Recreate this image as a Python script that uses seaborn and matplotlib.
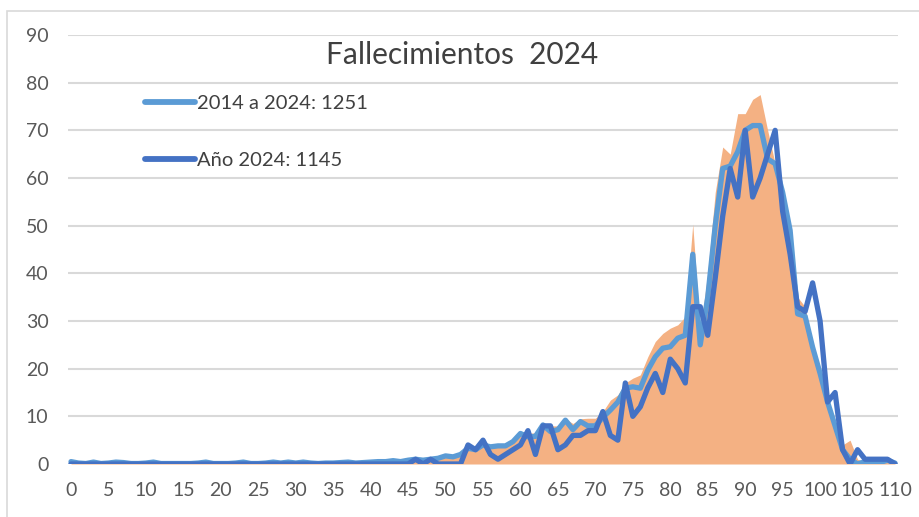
import numpy as np
import pandas as pd
import matplotlib
matplotlib.use("Agg")
import matplotlib.pyplot as plt
import seaborn as sns

ages = list(range(0, 111))

# 2014 a 2024 (media)
avg_2014_2024 = [
    0.5, 0.2, 0.1, 0.4, 0.1, 0.2, 0.4, 0.3, 0.1, 0.1,
    0.2, 0.4, 0.1, 0.1, 0.1, 0.1, 0.1, 0.2, 0.4, 0.1,
    0.1, 0.1, 0.2, 0.4, 0.1, 0.1, 0.2, 0.4, 0.2, 0.4,
    0.2, 0.4, 0.2, 0.1, 0.2, 0.2, 0.3, 0.4, 0.2, 0.3,
    0.4, 0.5, 0.5, 0.7, 0.5, 0.8, 1.0, 0.8, 1.0, 1.2,
    1.7, 1.5, 2.0, 3.3, 3.0, 4.0, 3.6, 3.8, 3.8, 4.7,
    6.4, 5.7, 5.8, 8.2, 6.8, 7.2, 9.2, 7.2, 8.9, 8.0,
    8.0, 9.8, 11.3, 13.0, 15.9, 16.2, 15.9, 19.7, 22.5, 24.3,
    24.6, 26.4, 27.0, 44.0, 25.0, 35.0, 50.0, 62.0, 62.5, 65.5,
    70.0, 71.0, 71.0, 64.0, 63.0, 57.0, 49.0, 31.5, 31.0, 24.5,
    19.0, 13.0, 8.0, 3.0, 1.0, 0.0, 0.5, 0.3, 0.3, 0.8,
    0.2,
]

# Año 2024
year_2024 = [
    0, 0, 0, 0, 0, 0, 0, 0, 0, 0,
    0, 0, 0, 0, 0, 0, 0, 0, 0, 0,
    0, 0, 0, 0, 0, 0, 0, 0, 0, 0,
    0, 0, 0, 0, 0, 0, 0, 0, 0, 0,
    0, 0, 0, 0, 0, 0, 1, 0, 1, 0,
    0, 0, 0, 4, 3, 5, 2, 1, 2, 3,
    4, 7, 2, 8, 8, 3, 4, 6, 6, 7,
    7, 11, 6, 5, 17, 10, 12, 16, 19, 15,
    22, 20, 17, 33, 33, 27, 39, 52, 62, 56,
    70, 56, 60, 65, 70, 53, 44, 33, 32, 38,
    30, 13, 15, 3, 0, 3, 1, 1, 1, 1,
    0,
]

# serie de fondo (área naranja)
area_max = [
    0.6, 0.3, 0.2, 0.5, 0.2, 0.3, 0.5, 0.4, 0.2, 0.2,
    0.3, 0.5, 0.2, 0.2, 0.2, 0.2, 0.2, 0.3, 0.5, 0.2,
    0.2, 0.2, 0.3, 0.5, 0.2, 0.2, 0.3, 0.5, 0.3, 0.5,
    0.3, 0.5, 0.3, 0.2, 0.3, 0.3, 0.4, 0.5, 0.3, 0.4,
    0.5, 0.6, 0.6, 0.8, 0.6, 1.0, 1.2, 1.0, 1.2, 1.4,
    1.9, 1.7, 2.2, 3.5, 3.3, 4.2, 3.8, 4.0, 4.0, 5.0,
    6.8, 6.5, 6.5, 8.5, 8.0, 8.0, 9.5, 8.5, 9.5, 9.6,
    9.6, 11.0, 13.4, 14.5, 17.0, 18.0, 18.7, 22.5, 25.7, 27.4,
    28.5, 29.2, 30.9, 50.3, 28.0, 40.0, 57.0, 66.5, 65.0, 73.5,
    73.5, 76.5, 77.5, 70.0, 63.0, 56.0, 50.0, 35.0, 33.0, 25.0,
    19.0, 13.0, 8.5, 4.0, 5.0, 1.0, 0.5, 0.3, 0.3, 0.5,
    0.2,
]

x_ticks = list(range(0, 111, 5))
y_ticks = list(range(0, 91, 10))

df = pd.DataFrame({
    "edad": ages,
    "media": avg_2014_2024,
    "anio": year_2024,
    "area": area_max,
})

sns.set_style("white")
plt.rcParams['font.family'] = ['Lato', 'DejaVu Sans']

fig = plt.figure(figsize=(9.2, 5.17), dpi=100)
fig.patches.append(plt.Rectangle((7 / 920, -0.05), 1.2, (517 - 11) / 517 + 0.05,
                                 transform=fig.transFigure, fill=False,
                                 edgecolor='#d9d9d9', linewidth=1.2))
ax = fig.add_axes([68 / 920, 53 / 517, 830 / 920, 429 / 517])

ax.fill_between(df["edad"], 0, df["area"], color='#F4B183', linewidth=0)
sns.lineplot(data=df, x="edad", y="media", ax=ax, color='#5B9BD5',
             linewidth=3.8, label='2014 a 2024: 1251')
sns.lineplot(data=df, x="edad", y="anio", ax=ax, color='#4472C4',
             linewidth=3.8, label='Año 2024: 1145')

ax.set_xlim(-0.4, 110.4)
ax.set_ylim(0, 90)
ax.set_xticks(x_ticks)
ax.set_yticks(y_ticks)
ax.tick_params(axis='both', length=0, labelsize=14, labelcolor='#595959')
ax.tick_params(axis='x', pad=13)
ax.tick_params(axis='y', pad=14)
ax.yaxis.grid(True, color='#d9d9d9', linewidth=1.5)
ax.set_axisbelow(True)
for s in ax.spines.values():
    s.set_visible(False)
ax.set_xlabel('')
ax.set_ylabel('')

ax.text(0.475, 0.953, 'Fallecimientos  2024', transform=ax.transAxes,
        ha='center', va='center', fontsize=21.5, color='#404040')

leg = ax.legend(loc='center left', bbox_to_anchor=(0.0928, 0.7735), frameon=False,
                fontsize=14.5, handlelength=2.5, handletextpad=0.1,
                labelspacing=2.0, borderaxespad=0, borderpad=0)
for t in leg.get_texts():
    t.set_color('#404040')
for h in leg.get_lines():
    h.set_solid_capstyle('round')
    h.set_linewidth(4.2)

fig.savefig("out.png", dpi=100)
